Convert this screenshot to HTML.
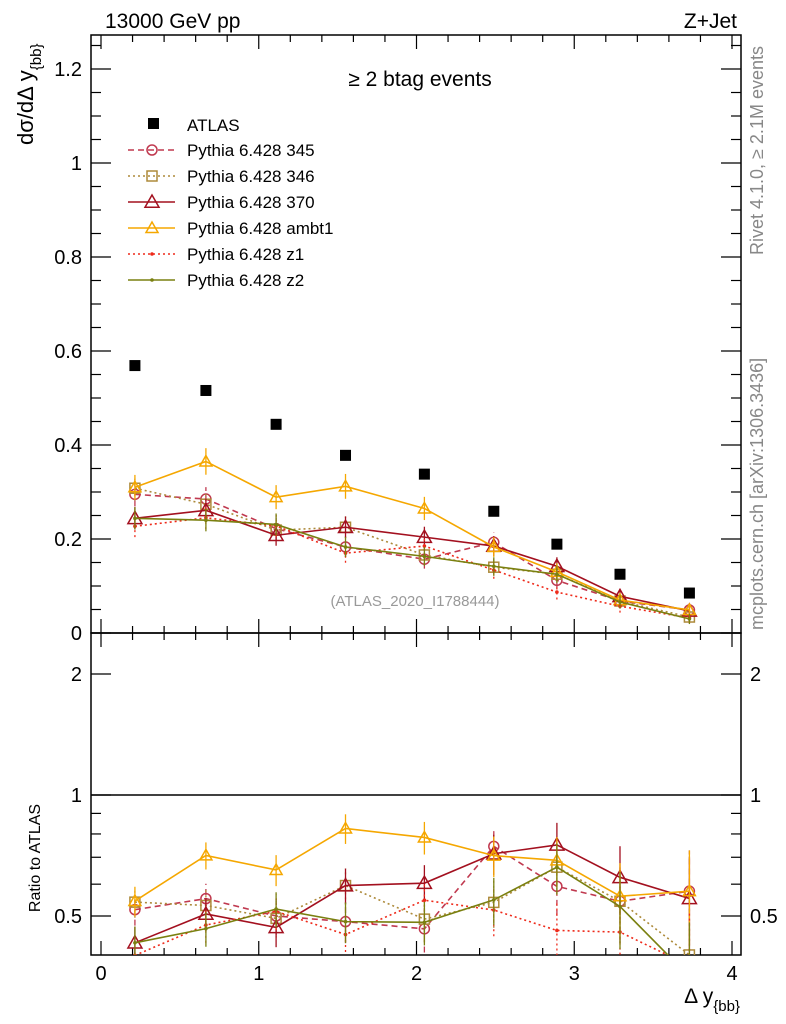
<!DOCTYPE html>
<html><head><meta charset="utf-8"><style>
body{margin:0;background:#fff;}
svg{display:block;font-family:"Liberation Sans",sans-serif;}
</style></head><body>
<svg id="c" width="786" height="1024" xmlns="http://www.w3.org/2000/svg"></svg>
<script>
const binX=[0.215,0.665,1.11,1.55,2.05,2.49,2.89,3.29,3.73];
const atlas=[0.569,0.516,0.444,0.378,0.338,0.259,0.189,0.125,0.085];
const s345=[0.295,0.285,0.222,0.183,0.157,0.193,0.112,0.068,0.049];
const s346=[0.308,0.274,0.219,0.225,0.166,0.140,0.125,0.068,0.034];
const s370=[0.244,0.261,0.208,0.225,0.204,0.185,0.142,0.078,0.047];
const sambt1=[0.310,0.365,0.289,0.312,0.265,0.183,0.130,0.070,0.049];
const sz1=[0.227,0.245,0.228,0.170,0.185,0.134,0.087,0.057,0.032];
const sz2=[0.244,0.240,0.231,0.183,0.163,0.142,0.125,0.066,0.030];
const xTicks=[0,1,2,3,4];
const yTicks=[0,0.2,0.4,0.6,0.8,1,1.2];
const rTicks=[0.5,1,2];

const svg=document.getElementById('c');
const NS='http://www.w3.org/2000/svg';
const L=91,R=741,T=35,MB=633,RB=955;
const X=v=>101+v*157.75;
const Y=v=>633-v*470;
const RY=r=>795-121*Math.log2(r);
function el(t,a,p){const e=document.createElementNS(NS,t);for(const k in a)e.setAttribute(k,a[k]);(p||svg).appendChild(e);return e;}
function txt(s,a,p){const e=el('text',a,p);e.textContent=s;return e;}

const fr=el('rect',{x:L,y:T,width:R-L,height:MB-T,fill:'none',stroke:'#000','stroke-width':1.5});

const fr2=el('rect',{x:L,y:MB,width:R-L,height:RB-MB,fill:'none',stroke:'#000','stroke-width':1.5});


for(let v=0;v<=4.0001;v+=0.2){const maj=Math.abs(v-Math.round(v))<1e-6;const len=maj?14:7;
 for(const y0 of [MB,RB]){el('line',{x1:X(v),x2:X(v),y1:y0,y2:y0-len,stroke:'#000','stroke-width':1.2});}
 for(const y0 of [T,MB]){el('line',{x1:X(v),x2:X(v),y1:y0,y2:y0+len,stroke:'#000','stroke-width':1.2});}}
xTicks.forEach(v=>{const t=txt(String(v),{x:X(v),y:980,'font-size':20,'text-anchor':'middle'});});
for(let v=0;v<=1.27;v+=0.05){const maj=Math.abs(v*5-Math.round(v*5))<1e-6;const len=maj?20:10;
 el('line',{x1:L,x2:L+len,y1:Y(v),y2:Y(v),stroke:'#000','stroke-width':1.2});
 el('line',{x1:R,x2:R-len,y1:Y(v),y2:Y(v),stroke:'#000','stroke-width':1.2});}
yTicks.forEach(v=>{const t=txt(String(v),{x:82,y:Y(v)+7,'font-size':20,'text-anchor':'end'});});
[0.5,0.6,0.7,0.8,0.9,1,2].forEach(r=>{const maj=rTicks.includes(r);const len=maj?20:10;
 el('line',{x1:L,x2:L+len,y1:RY(r),y2:RY(r),stroke:'#000','stroke-width':1.2});
 el('line',{x1:R,x2:R-len,y1:RY(r),y2:RY(r),stroke:'#000','stroke-width':1.2});});
rTicks.forEach(r=>{const t=txt(String(r),{x:82,y:RY(r)+7,'font-size':20,'text-anchor':'end'});
 const t2=txt(String(r),{x:750,y:RY(r)+7,'font-size':20});});
el('line',{x1:L,x2:R,y1:RY(1),y2:RY(1),stroke:'#000','stroke-width':1.5});

const defs=el('defs',{});
const c1=el('clipPath',{id:'cm'},defs);el('rect',{x:L,y:T,width:R-L,height:MB-T},c1);
const c2=el('clipPath',{id:'cr'},defs);el('rect',{x:L,y:MB,width:R-L,height:RB-MB},c2);
const gm=el('g',{'clip-path':'url(#cm)'});
const gr=el('g',{'clip-path':'url(#cr)'});

const series=[
 {name:'Pythia 6.428 345',d:s345,c:'#c0394f',dash:'6,4',m:'circle'},
 {name:'Pythia 6.428 346',d:s346,c:'#ad8a3a',dash:'2,3',m:'square'},
 {name:'Pythia 6.428 370',d:s370,c:'#a3101f',dash:'',m:'tri'},
 {name:'Pythia 6.428 ambt1',d:sambt1,c:'#f5a700',dash:'',m:'tri'},
 {name:'Pythia 6.428 z1',d:sz1,c:'#ee2a1a',dash:'2,3',m:'dot'},
 {name:'Pythia 6.428 z2',d:sz2,c:'#7a8010',dash:'',m:'dot'}];
function marker(g,m,x,y,c,big){
 if(m==='circle')el('circle',{cx:x,cy:y,r:5,fill:'none',stroke:c,'stroke-width':1.5},g);
 else if(m==='square')el('rect',{x:x-5,y:y-5,width:10,height:10,fill:'none',stroke:c,'stroke-width':1.5},g);
 else if(m==='tri'){const s=big?7:6;el('polygon',{points:`${x},${y-s} ${x-s},${y+s*0.75} ${x+s},${y+s*0.75}`,fill:'none',stroke:c,'stroke-width':1.5},g);}
 else el('circle',{cx:x,cy:y,r:1.8,fill:c},g);}
series.forEach((s,si)=>{
 const g=el('g',{},gm);
 const gg=el('g',{},gr);
 el('polyline',{points:binX.map((x,i)=>X(x)+','+Y(s.d[i])).join(' '),fill:'none',stroke:s.c,'stroke-width':1.6,'stroke-dasharray':s.dash},g);
 el('polyline',{points:binX.map((x,i)=>X(x)+','+RY(s.d[i]/atlas[i])).join(' '),fill:'none',stroke:s.c,'stroke-width':1.6,'stroke-dasharray':s.dash},gg);
 binX.forEach((x,i)=>{const e=0.022*Math.sqrt(s.d[i]/0.3)+0.004;
  el('line',{x1:X(x),x2:X(x),y1:Y(s.d[i]-e),y2:Y(s.d[i]+e),stroke:s.c,'stroke-width':1.3,'stroke-dasharray':s.dash},g);
  const r=s.d[i]/atlas[i],er=e/atlas[i];
  el('line',{x1:X(x),x2:X(x),y1:RY(Math.max(r-er,0.05)),y2:RY(r+er),stroke:s.c,'stroke-width':1.3,'stroke-dasharray':s.dash},gg);
  marker(g,s.m,X(x),Y(s.d[i]),s.c,si===2);marker(gg,s.m,X(x),RY(r),s.c,si===2);});
});
const ga=el('g',{},gm);
binX.forEach((x,i)=>el('rect',{x:X(x)-5.5,y:Y(atlas[i])-5.5,width:11,height:11,fill:'#000'},ga));

const lg=el('g',{});
el('rect',{x:148,y:118,width:11,height:11,fill:'#000'},lg);
txt('ATLAS',{x:187,y:131,'font-size':17},lg);
series.forEach((s,i)=>{const y=150+i*26;
 el('line',{x1:128,x2:175,y1:y,y2:y,stroke:s.c,'stroke-width':1.5,'stroke-dasharray':s.dash},lg);
 marker(lg,s.m,152,y,s.c,i===2);
 txt(s.name,{x:187,y:y+6,'font-size':17},lg);});

const a=[['13000 GeV pp',{x:105,y:28,'font-size':21},'title-energy'],
 ['Z+Jet',{x:737,y:28,'font-size':21,'text-anchor':'end'},'title-process'],
 ['≥ 2 btag events',{x:420,y:86,'font-size':21,'text-anchor':'middle'},'plot-subtitle'],
 ['(ATLAS_2020_I1788444)',{x:415,y:606,'font-size':15,'text-anchor':'middle',fill:'#999'},'analysis-id']];
a.forEach(([s,at,n])=>{const t=txt(s,at);});
let t=txt('',{transform:'translate(33,145) rotate(-90)','font-size':22});
t.innerHTML='dσ/dΔ y<tspan font-size="15" dy="8">{bb}</tspan>';
t=txt('Ratio to ATLAS',{transform:'translate(40,858) rotate(-90)','font-size':16,'text-anchor':'middle'});
t=txt('',{x:740,y:1003,'font-size':21,'text-anchor':'end'});
t.innerHTML='Δ y<tspan font-size="15" dy="8">{bb}</tspan><tspan dy="-8"> </tspan>';
t=txt('Rivet 4.1.0, ≥ 2.1M events',{transform:'translate(763,255) rotate(-90)','font-size':18,fill:'#888'});
t=txt('mcplots.cern.ch [arXiv:1306.3436]',{transform:'translate(763,630) rotate(-90)','font-size':18,fill:'#888'});
</script>
</body></html>
